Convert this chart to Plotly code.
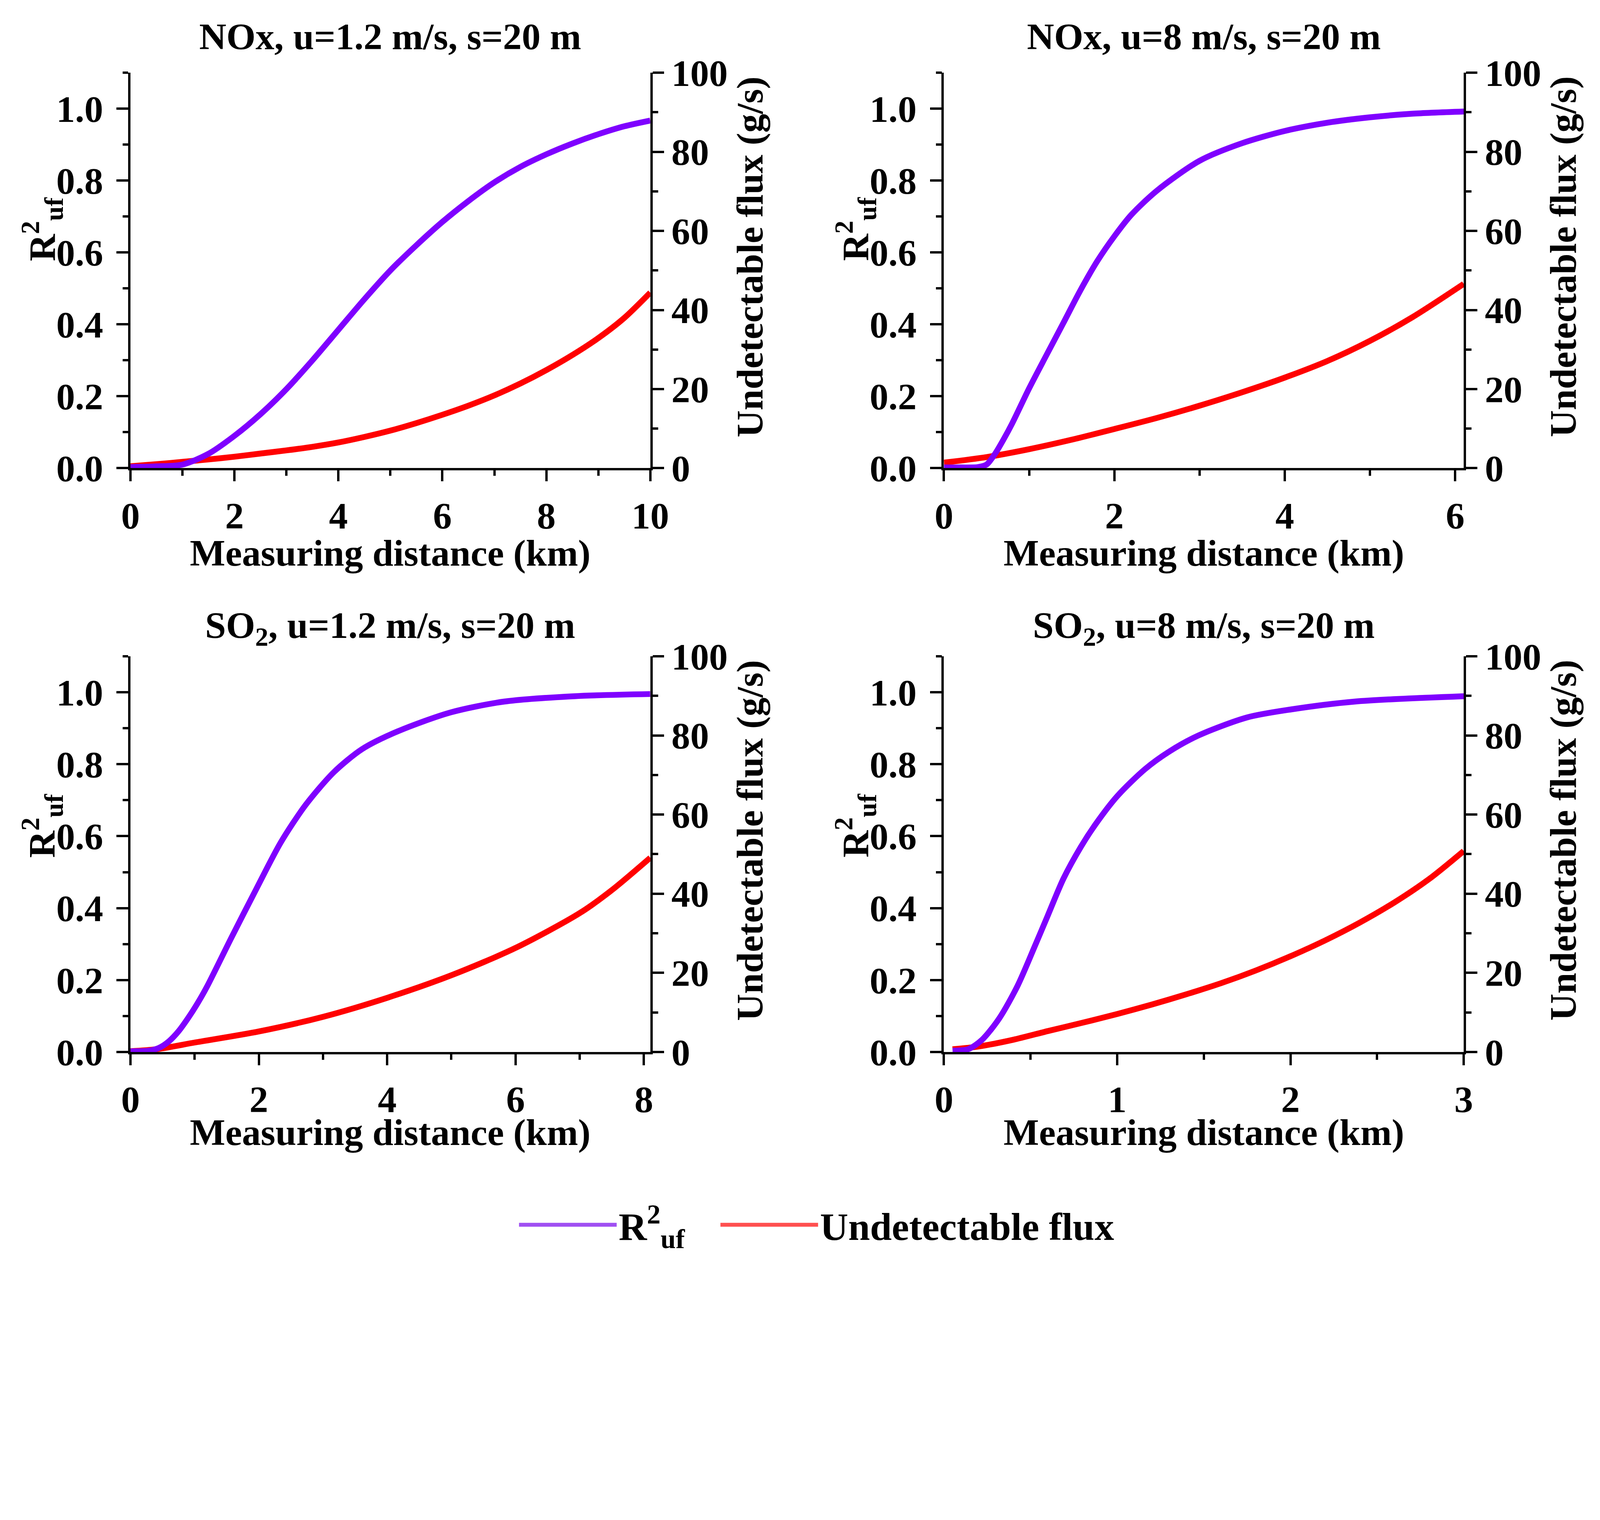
import plotly.graph_objects as go

# ---------------- data ----------------
titles = ["NOx, u=1.2 m/s, s=20 m", "NOx, u=8 m/s, s=20 m",
          "SO<sub>2</sub>, u=1.2 m/s, s=20 m", "SO<sub>2</sub>, u=8 m/s, s=20 m"]

# NOx, u=1.2
nox12_r2_x = [0, 0.5, 1, 1.5, 2, 2.5, 3, 3.5, 4, 4.5, 5, 5.5, 6, 6.5, 7, 7.5, 8, 8.5, 9, 9.5, 10]
nox12_r2 = [0.003, 0.005, 0.01, 0.04, 0.09, 0.15, 0.22, 0.30, 0.385, 0.47, 0.55, 0.62, 0.685,
            0.743, 0.795, 0.838, 0.873, 0.903, 0.929, 0.951, 0.967]
nox12_flux_x = [0, 0.5, 1, 1.5, 2, 2.5, 3, 3.5, 4, 4.5, 5, 5.5, 6, 6.5, 7, 7.5, 8, 8.5, 9, 9.5, 10]
nox12_flux = [0.5, 1.0, 1.6, 2.2, 2.9, 3.7, 4.5, 5.4, 6.5, 7.9, 9.5, 11.4, 13.5, 15.8, 18.4,
              21.4, 24.8, 28.6, 32.9, 38.0, 44.4]

# NOx, u=8
nox8_r2_x = [0, 0.2, 0.4, 0.5, 0.6, 0.7, 0.8, 1.0, 1.2, 1.4, 1.6, 1.8, 2.0, 2.2, 2.5, 3.0,
             3.5, 4.0, 4.5, 5.0, 5.5, 6.1]
nox8_r2 = [0.002, 0.002, 0.003, 0.01, 0.04, 0.08, 0.124, 0.222, 0.313, 0.403, 0.494, 0.576,
           0.645, 0.705, 0.772, 0.855, 0.904, 0.938, 0.961, 0.976, 0.986, 0.992]
nox8_flux_x = [0, 0.5, 1.0, 1.5, 2.0, 2.5, 3.0, 3.5, 4.0, 4.5, 5.0, 5.5, 6.1]
nox8_flux = [1.4, 2.8, 4.8, 7.2, 9.9, 12.7, 15.8, 19.2, 22.9, 27.1, 32.2, 38.2, 46.6]

# SO2, u=1.2
so212_r2_x = [0, 0.3, 0.45, 0.6, 0.75, 0.9, 1.05, 1.19, 1.57, 1.96, 2.34, 2.73, 3.17, 3.61,
              4.16, 4.99, 5.82, 6.92, 8.1]
so212_r2 = [0.002, 0.004, 0.012, 0.03, 0.058, 0.095, 0.137, 0.181, 0.317, 0.453, 0.582, 0.687,
            0.778, 0.842, 0.891, 0.944, 0.974, 0.989, 0.995]
so212_flux_x = [0, 0.4, 1, 2, 3, 4, 5, 6, 7, 7.5, 8.1]
so212_flux = [0.2, 0.7, 2.4, 5.2, 8.9, 13.7, 19.4, 26.3, 35.1, 40.9, 49.1]

# SO2, u=8
so28_r2_x = [0.05, 0.14, 0.22, 0.32, 0.425, 0.527, 0.6, 0.69, 0.79, 0.875, 1.0, 1.16, 1.30,
             1.47, 1.75, 2.0, 2.37, 3.0]
so28_r2 = [0.004, 0.008, 0.034, 0.094, 0.184, 0.297, 0.38, 0.482, 0.57, 0.633, 0.711, 0.786,
           0.835, 0.880, 0.93, 0.952, 0.974, 0.989]
so28_flux_x = [0.05, 0.2, 0.4, 0.6, 0.8, 1.0, 1.2, 1.4, 1.6, 1.8, 2.0, 2.2, 2.4, 2.6, 2.8, 3.0]
so28_flux = [0.7, 1.4, 3.1, 5.3, 7.4, 9.6, 12.0, 14.6, 17.4, 20.6, 24.2, 28.2, 32.7, 37.8,
             43.7, 50.8]

x_ranges = [[0, 10], [0, 6.1], [0, 8.1], [0, 3.0]]
x_dticks = [2, 2, 2, 1]
r2_range = [0, 1.1]
flux_range = [0, 100]

legend_names = ["R<sup>2</sup><sub>uf</sub>", "Undetectable flux"]
x_title = "Measuring distance (km)"
r2_title = "R<sup>2</sup><sub>uf</sub>"
flux_title = "Undetectable flux (g/s)"

# ---------------- layout mapping ----------------
# Positions below are measured on the 4899x3891 reference; they are mapped to
# page pixels with the scale/offset observed in the photographed page.
R = 1568.2 / 4899
SX, OX = 0.377, 11.5
SY, OY = 0.3705, 25.0


def cx(d):
    return (R * d - OX) / SX


def cy(d):
    return (R * d - OY) / SY


W = round(cx(4899))
H = round(cy(3891))


def px(d):                      # paper x from reference x
    return cx(d) / W


def py(d, minpx=0):             # paper y from reference y
    return 1 - max(cy(d), minpx) / H


S = 0.855                       # size scale (page px per reference px)
def D(v):
    return v * S


FONT = "Liberation Serif"
PURPLE = "#7F00FF"
RED = "#FF0000"
LEG_PURPLE = "#A050F2"
LEG_RED = "#FF5050"
FS = D(112.5)
LW = D(6.5)
CW = D(17.5)

col_dom = [[px(398), px(1993)], [px(2894), px(4489)]]
row_dom = [[py(1440), py(229)], [py(3228), py(2016)]]

panels = [
    (nox12_r2_x, nox12_r2, nox12_flux_x, nox12_flux),
    (nox8_r2_x, nox8_r2, nox8_flux_x, nox8_flux),
    (so212_r2_x, so212_r2, so212_flux_x, so212_flux),
    (so28_r2_x, so28_r2, so28_flux_x, so28_flux),
]

fig = go.Figure()
tickfont = dict(family=FONT, size=FS, color="black", weight="bold")
titlefont = dict(family=FONT, size=FS, color="black", weight="bold")

for i, (rx, ry, fx, fy) in enumerate(panels):
    r, c = divmod(i, 2)
    xb = i + 1            # bottom x axis
    xt = i + 5            # top x axis (ticks inside)
    yf = 2 * i + 1        # flux axis (right), base
    yr = 2 * i + 2        # R2 axis (left), overlay -> drawn on top
    xname = "x" if xb == 1 else f"x{xb}"
    yfname = "y" if yf == 1 else f"y{yf}"
    yrname = f"y{yr}"

    fig.add_trace(go.Scatter(x=fx, y=fy, mode="lines", xaxis=xname, yaxis=yfname,
                             line=dict(color=RED, width=CW, shape="spline", smoothing=0.8),
                             showlegend=False, name="Undetectable flux"))
    fig.add_trace(go.Scatter(x=rx, y=ry, mode="lines", xaxis=xname, yaxis=yrname,
                             line=dict(color=PURPLE, width=CW, shape="spline", smoothing=0.8),
                             showlegend=False, name="R2uf"))

    common_x = dict(range=x_ranges[i], showgrid=False, zeroline=False, showline=True,
                    linecolor="black", linewidth=LW, dtick=x_dticks[i], tick0=0)
    fig.layout[f"xaxis{'' if xb == 1 else xb}"] = dict(
        common_x, domain=col_dom[c], anchor=yfname, side="bottom",
        ticks="outside", ticklen=D(33), tickwidth=LW, tickcolor="black",
        minor=dict(ticks="outside", ticklen=D(16), tickwidth=LW, tickcolor="black",
                   dtick=x_dticks[i] / 2),
        tickfont=tickfont, ticklabelstandoff=round(D(6)))
    fig.layout[f"xaxis{xt}"] = dict(
        common_x, domain=col_dom[c], anchor=yfname, overlaying=xname, side="top",
        ticks="inside", ticklen=D(31), tickwidth=LW, tickcolor="black",
        minor=dict(ticks="inside", ticklen=D(14), tickwidth=LW, tickcolor="black",
                   dtick=x_dticks[i] / 2),
        showticklabels=False)
    fig.layout[f"yaxis{'' if yf == 1 else yf}"] = dict(
        domain=row_dom[r], anchor=xname, side="right", range=flux_range,
        showgrid=False, zeroline=False, showline=True, linecolor="black", linewidth=LW,
        ticks="outside", ticklen=D(34), tickwidth=LW, tickcolor="black", dtick=20, tick0=0,
        minor=dict(ticks="outside", ticklen=D(17), tickwidth=LW, tickcolor="black", dtick=10),
        tickfont=tickfont, ticklabelstandoff=0)
    fig.layout[f"yaxis{yr}"] = dict(
        domain=row_dom[r], anchor=xname, overlaying=yfname, side="left", range=r2_range,
        showgrid=False, zeroline=False, showline=True, linecolor="black", linewidth=LW,
        ticks="outside", ticklen=D(35), tickwidth=LW, tickcolor="black", dtick=0.2, tick0=0,
        tickformat=".1f",
        minor=dict(ticks="outside", ticklen=D(17), tickwidth=LW, tickcolor="black", dtick=0.1),
        tickfont=tickfont, ticklabelstandoff=round(D(18)))

# legend entries (styled like the reference legend), one legend box each
fig.add_trace(go.Scatter(x=[None], y=[None], mode="lines", name=legend_names[0],
                         line=dict(color=LEG_PURPLE, width=CW), showlegend=True,
                         legend="legend"))
fig.add_trace(go.Scatter(x=[None], y=[None], mode="lines", name=legend_names[1],
                         line=dict(color=LEG_RED, width=CW), showlegend=True,
                         legend="legend2"))

# text positions in reference pixels
sub_title_y = [89, 1929]
x_title_y = [1700, 3474]
r2_title_x = [127, 2623]
r2_title_y = [707, 2534]
flux_title_x = [2298, 4794]
flux_title_y = [793, 2580]

annotations = []
for i, t in enumerate(titles):
    r, c = divmod(i, 2)
    mid = sum(col_dom[c]) / 2
    annotations.append(dict(text=t, x=mid, y=py(sub_title_y[r], minpx=FS * 0.36),
                            xref="paper", yref="paper", xanchor="center", yanchor="middle",
                            showarrow=False, font=titlefont))
    annotations.append(dict(text=x_title, x=mid, y=py(x_title_y[r]), xref="paper",
                            yref="paper", xanchor="center", yanchor="middle",
                            showarrow=False, font=titlefont))
    annotations.append(dict(text=r2_title, x=px(r2_title_x[c]), y=py(r2_title_y[r]),
                            xref="paper", yref="paper", xanchor="center", yanchor="middle",
                            textangle=-90, showarrow=False, font=titlefont))
    annotations.append(dict(text=flux_title, x=px(flux_title_x[c]), y=py(flux_title_y[r]),
                            xref="paper", yref="paper", xanchor="center", yanchor="middle",
                            textangle=-90, showarrow=False, font=titlefont))

legfont = dict(family=FONT, size=100, color="black", weight="bold")
leg_common = dict(orientation="h", xanchor="left", yanchor="middle", y=py(3757),
                  font=legfont, itemwidth=250, bgcolor="rgba(0,0,0,0)")

fig.update_layout(
    width=W, height=H, autosize=False,
    margin=dict(l=0, r=0, t=0, b=0),
    paper_bgcolor="white", plot_bgcolor="white",
    font=dict(family=FONT, color="black"),
    annotations=annotations,
    legend=dict(leg_common, x=px(1596) - 10 / W),
    legend2=dict(leg_common, x=px(2214) - 10 / W),
)

fig.write_html("out.html")
